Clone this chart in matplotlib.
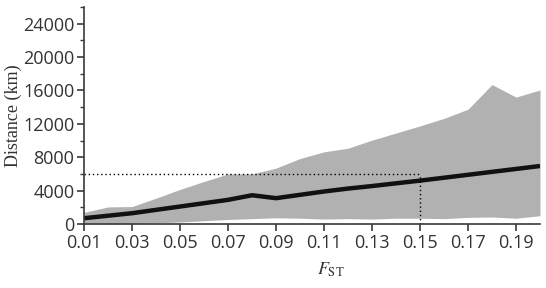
import numpy as np
import matplotlib.pyplot as plt
from matplotlib.ticker import MultipleLocator

plt.rcParams['mathtext.fontset'] = 'stix'

fst = [0.01, 0.02, 0.03, 0.04, 0.05, 0.06, 0.07, 0.08, 0.09, 0.10,
       0.11, 0.12, 0.13, 0.14, 0.15, 0.16, 0.17, 0.18, 0.19, 0.20]
mean_km = [700, 1000, 1300, 1700, 2100, 2500, 2900, 3450, 3100, 3500,
           3900, 4250, 4550, 4880, 5200, 5550, 5900, 6250, 6600, 6950]
upper_km = [1400, 2050, 2100, 3100, 4150, 5100, 6000, 6000, 6700, 7850,
            8650, 9080, 10050, 10900, 11750, 12650, 13750, 16700, 15200, 16050]
lower_km = [0, 0, 50, 150, 250, 400, 550, 650, 750, 700,
            600, 650, 600, 700, 700, 650, 800, 850, 700, 1000]
ref_fst = 0.15
ref_km = 6000

x_ticks = [0.01, 0.03, 0.05, 0.07, 0.09, 0.11, 0.13, 0.15, 0.17, 0.19]

fig = plt.figure(figsize=(5.46, 2.88), dpi=100)
ax = fig.add_axes([0.154, 0.222, 0.835, 0.754])

ax.fill_between(fst, lower_km, upper_km, color='#b1b1b1', lw=0)
ax.plot(fst, mean_km, color='#111111', lw=3.2, solid_capstyle='butt')
ax.plot([fst[0], ref_fst], [ref_km, ref_km], color='black', ls=(0, (1, 2)), lw=1)
ax.plot([ref_fst, ref_fst], [0, ref_km], color='black', ls=(0, (1, 2)), lw=1)

ax.set_xlim(0.01, 0.20)
ax.set_ylim(0, 26000)
ax.set_xticks(x_ticks)
ax.set_xticklabels([f'{t:.2f}' for t in x_ticks])
ax.set_yticks([0, 4000, 8000, 12000, 16000, 20000, 24000])
ax.yaxis.set_minor_locator(MultipleLocator(2000))

for s in ['top', 'right']:
    ax.spines[s].set_visible(False)
for s in ['left', 'bottom']:
    ax.spines[s].set_color('#3a3a3a')
    ax.spines[s].set_linewidth(1.2)

ax.tick_params(axis='both', which='major', length=5, width=1.2, color='#3a3a3a',
               labelsize=13, labelcolor='#333333', pad=2)
ax.tick_params(axis='y', which='minor', length=3, width=1.0, color='#3a3a3a')
for lab in ax.get_xticklabels() + ax.get_yticklabels():
    lab.set_family('Open Sans')

ax.set_ylabel('Distance (km)', family='Liberation Serif', fontsize=13, color='#333333', labelpad=1)
ax.set_xlabel(r'$F_{\mathrm{ST}}$', fontsize=13, color='#333333')
ax.xaxis.set_label_coords(0.54, -0.17)

fig.savefig('out.png', dpi=100)
